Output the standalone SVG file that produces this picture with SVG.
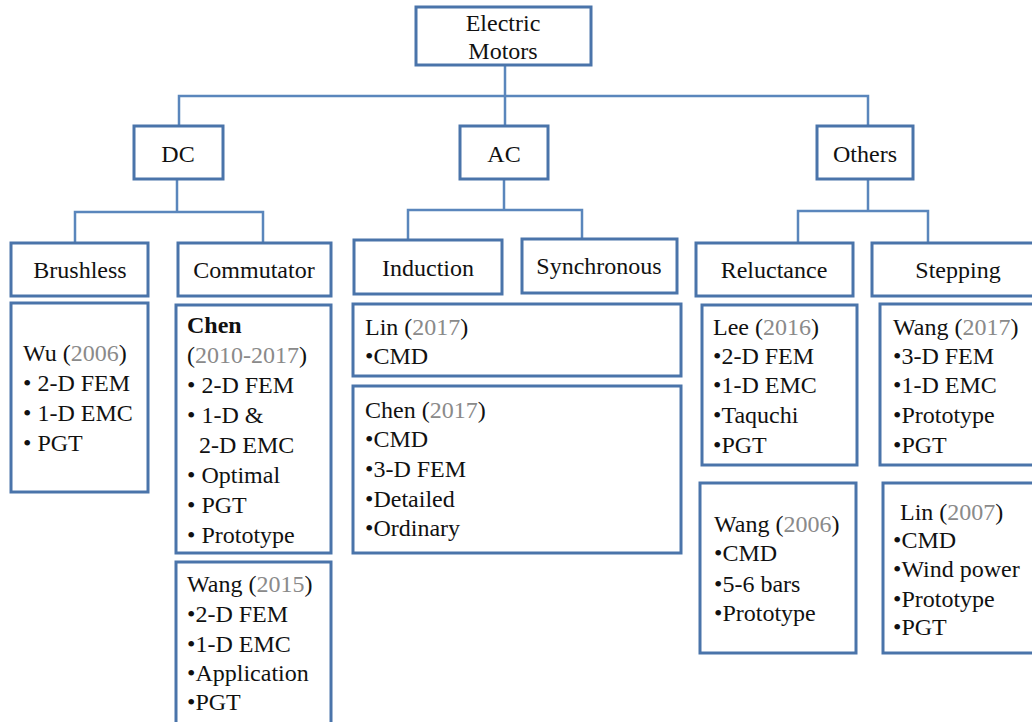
<svg xmlns="http://www.w3.org/2000/svg" width="1032" height="722" viewBox="0 0 1032 722">
<style>
.box{fill:#fff;stroke:#4a74aa;stroke-width:3}
.con{fill:none;stroke:#5a86bc;stroke-width:2.5}
text{font-family:'Liberation Serif','DejaVu Serif',serif;font-size:24px;fill:#111}
.c{text-anchor:middle}
.y{fill:#8a8a8a}
.b{font-weight:bold}
</style>
<rect width="1032" height="722" fill="#fff"/>
<g id="connectors">
<path class="con" d="M505,65 V126 M179,126 V96 H868 V126"/>
<path class="con" d="M177,179 V212 M75,243 V212 H263 V243"/>
<path class="con" d="M504,179 V210 M408,240 V210 H582 V239"/>
<path class="con" d="M868,179 V211 M798,243 V211 H928 V243"/>
</g>
<g id="electric-motors"><rect class="box" x="416" y="7" width="175" height="58"/><text class="c" x="503" y="31">Electric</text><text class="c" x="503" y="59">Motors</text></g>
<g id="dc"><rect class="box" x="134" y="126" width="89" height="53"/><text class="c" x="178" y="162">DC</text></g>
<g id="ac"><rect class="box" x="460" y="126" width="88" height="53"/><text class="c" x="504" y="162">AC</text></g>
<g id="others"><rect class="box" x="817" y="126" width="96" height="53"/><text class="c" x="865" y="162">Others</text></g>
<g id="brushless"><rect class="box" x="11" y="243" width="137" height="53"/><text class="c" x="80" y="278">Brushless</text></g>
<g id="commutator"><rect class="box" x="178" y="243" width="153" height="53"/><text class="c" x="254" y="278">Commutator</text></g>
<g id="induction"><rect class="box" x="354" y="240" width="148" height="54"/><text class="c" x="428" y="276">Induction</text></g>
<g id="synchronous"><rect class="box" x="522" y="239" width="155" height="54"/><text class="c" x="599" y="274">Synchronous</text></g>
<g id="reluctance"><rect class="box" x="696" y="243" width="157" height="53"/><text class="c" x="774" y="278">Reluctance</text></g>
<g id="stepping"><rect class="box" x="872" y="243" width="176" height="53"/><text class="c" x="958" y="278">Stepping</text></g>
<g id="wu2006"><rect class="box" x="11" y="303" width="137" height="189"/>
<text x="23" y="361">Wu (<tspan class="y">2006</tspan>)</text>
<text x="23" y="391">• 2-D FEM</text>
<text x="23" y="421">• 1-D EMC</text>
<text x="23" y="451">• PGT</text></g>
<g id="chen2010"><rect class="box" x="176" y="305" width="155" height="248"/>
<text class="b" x="187" y="333">Chen</text>
<text x="187" y="363">(<tspan class="y">2010-2017</tspan>)</text>
<text x="187" y="393">• 2-D FEM</text>
<text x="187" y="423">• 1-D &amp;</text>
<text x="199" y="453">2-D EMC</text>
<text x="187" y="483">• Optimal</text>
<text x="187" y="513">• PGT</text>
<text x="187" y="543">• Prototype</text></g>
<g id="wang2015"><rect class="box" x="176" y="562" width="155" height="170"/>
<text x="187" y="592">Wang (<tspan class="y">2015</tspan>)</text>
<text x="187" y="622">•2-D FEM</text>
<text x="187" y="652">•1-D EMC</text>
<text x="187" y="681">•Application</text>
<text x="187" y="710">•PGT</text></g>
<g id="lin2017"><rect class="box" x="353" y="304" width="328" height="72"/>
<text x="365" y="335">Lin (<tspan class="y">2017</tspan>)</text>
<text x="365" y="364">•CMD</text></g>
<g id="chen2017"><rect class="box" x="353" y="386" width="328" height="167"/>
<text x="365" y="418">Chen (<tspan class="y">2017</tspan>)</text>
<text x="365" y="447">•CMD</text>
<text x="365" y="477">•3-D FEM</text>
<text x="365" y="507">•Detailed</text>
<text x="365" y="536">•Ordinary</text></g>
<g id="lee2016"><rect class="box" x="702" y="305" width="155" height="160"/>
<text x="713" y="335">Lee (<tspan class="y">2016</tspan>)</text>
<text x="713" y="364">•2-D FEM</text>
<text x="713" y="393">•1-D EMC</text>
<text x="713" y="423">•Taquchi</text>
<text x="713" y="453">•PGT</text></g>
<g id="wang2017"><rect class="box" x="880" y="304" width="170" height="161"/>
<text x="893" y="335">Wang (<tspan class="y">2017</tspan>)</text>
<text x="893" y="364">•3-D FEM</text>
<text x="893" y="393">•1-D EMC</text>
<text x="893" y="423">•Prototype</text>
<text x="893" y="453">•PGT</text></g>
<g id="wang2006"><rect class="box" x="700" y="483" width="156" height="170"/>
<text x="714" y="532">Wang (<tspan class="y">2006</tspan>)</text>
<text x="714" y="561">•CMD</text>
<text x="714" y="592">•5-6 bars</text>
<text x="714" y="621">•Prototype</text></g>
<g id="lin2007"><rect class="box" x="883" y="483" width="170" height="170"/>
<text x="900" y="520">Lin (<tspan class="y">2007</tspan>)</text>
<text x="893" y="548">•CMD</text>
<text x="893" y="577">•Wind power</text>
<text x="893" y="607">•Prototype</text>
<text x="893" y="635">•PGT</text></g>
</svg>
